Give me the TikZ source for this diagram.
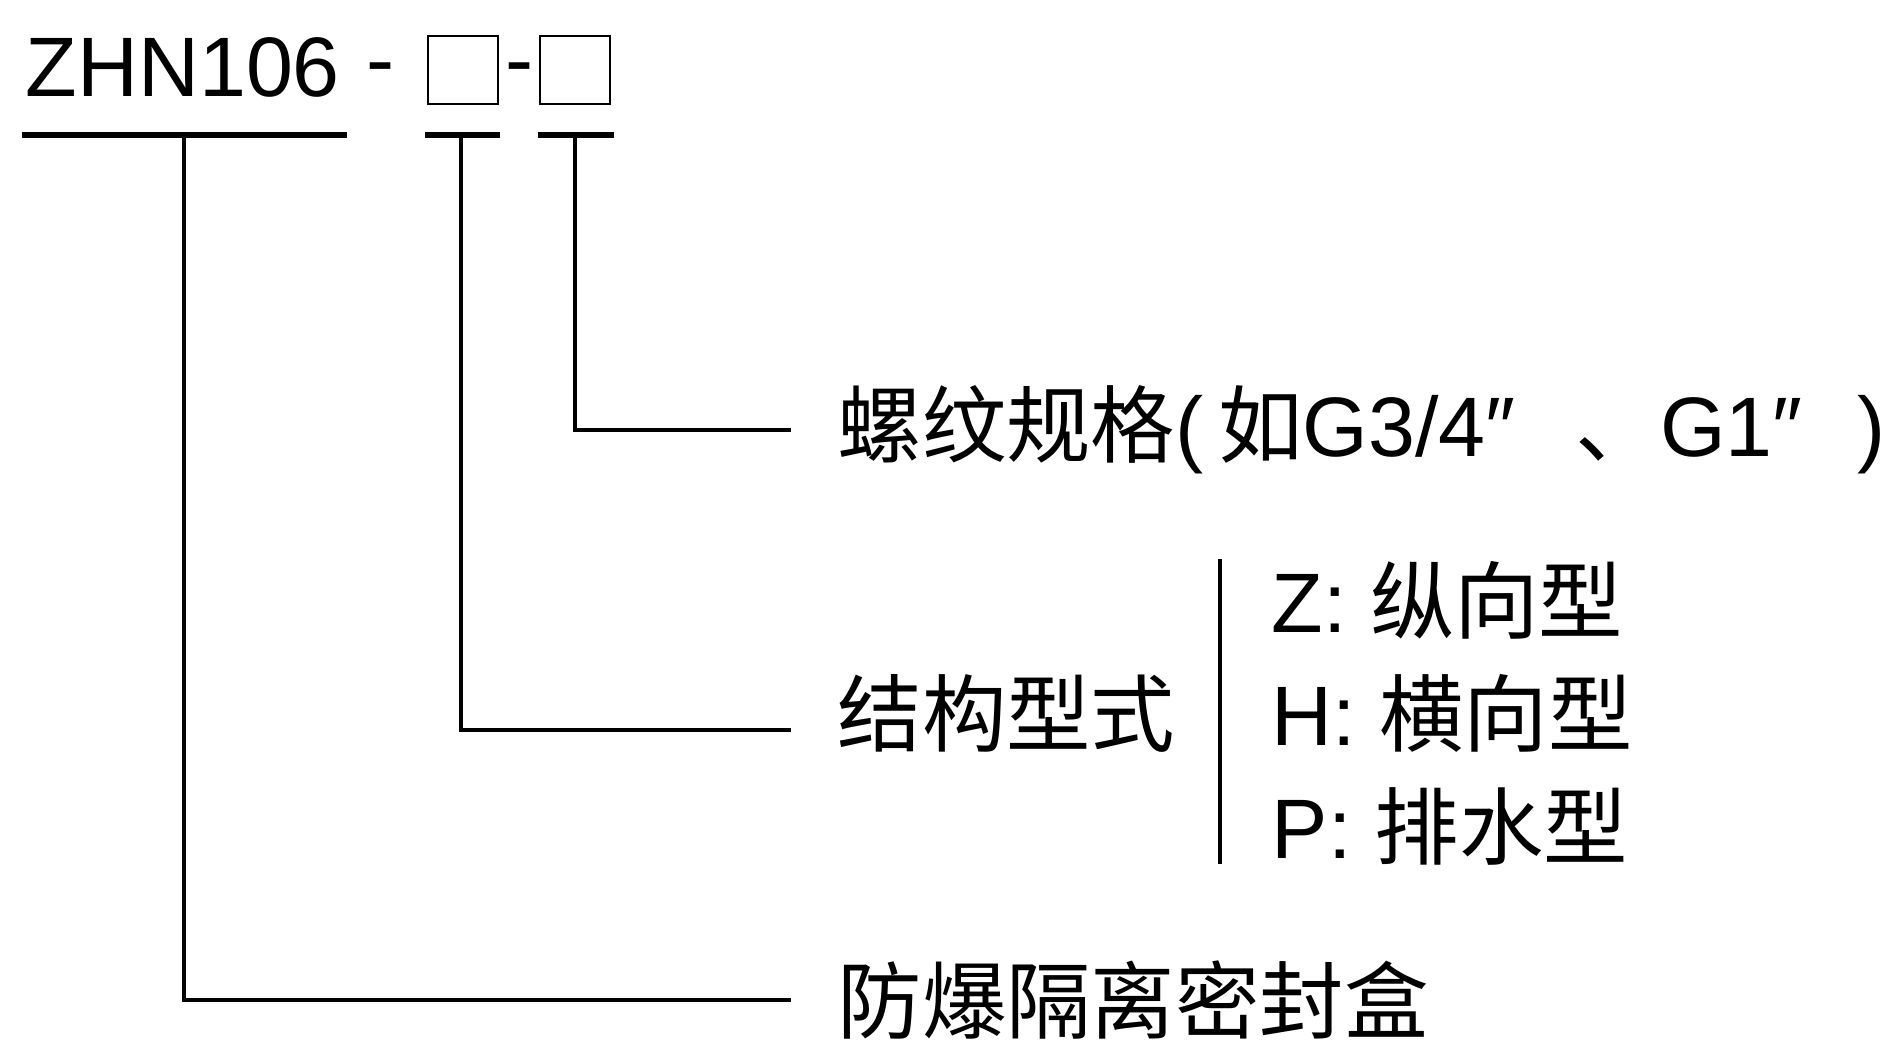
\documentclass[tikz,border=0pt]{standalone}
\usepackage{fontspec}
\setmainfont{Liberation Sans}
\newfontfamily\cjk{Noto Sans CJK SC}
\begin{document}
\begin{tikzpicture}
   [x=0.01cm, y=-0.01cm,
   txt/.style={inner sep=0pt, font=\fontsize{24}{28}\selectfont},
   slot/.style={draw, line width=0.8pt, minimum width=0.7cm, minimum height=0.68cm, inner sep=0pt},
   rule/.style={line width=1.6pt},
   lead/.style={line width=1.3pt, shorten >=13pt}]
    \useasboundingbox (0,0) rectangle (1894,1052);
    % model code
    \node[txt, anchor=base west] (code) at (25,97) {ZHN106};
    \node[txt] (dashA) at (381,76) {-};
    \node[slot] (boxA) at (463,70) {};
    \node[txt] (dashB) at (520,76) {-};
    \node[slot] (boxB) at (575,70) {};
    \draw[rule] (22,135) -- (347,135);
    \draw[rule] (425,135) -- (500,135);
    \draw[rule] (538,135) -- (614,135);
    \coordinate (u1) at (184,135);
    \coordinate (u2) at (461,135);
    \coordinate (u3) at (575,135);
    % meanings
    \node[txt, anchor=west] (thread) at (837,430) {{\cjk 螺纹规格}(\hspace{0.15cm}{\cjk 如}G3/4″\hspace{0.6cm}{\cjk 、}G1″\hspace{0.55cm})};
    \node[txt, anchor=west] (form) at (837,713) {\cjk 结构型式};
    \node[txt, anchor=west] (body) at (837,1000) {\cjk 防爆隔离密封盒};
    \node[txt, anchor=west] (optZ) at (1271,600) {Z: {\cjk 纵向型}};
    \node[txt, anchor=west] (optH) at (1271,713) {H: {\cjk 横向型}};
    \node[txt, anchor=west] (optP) at (1271,826) {P: {\cjk 排水型}};
    \draw[line width=1.3pt] (1220,559) -- (1220,864);
    \draw[lead] (u3) |- (thread.west);
    \draw[lead] (u2) |- ([yshift=-0.17cm]form.west);
    \draw[lead] (u1) |- (body.west);
\end{tikzpicture}
\end{document}
